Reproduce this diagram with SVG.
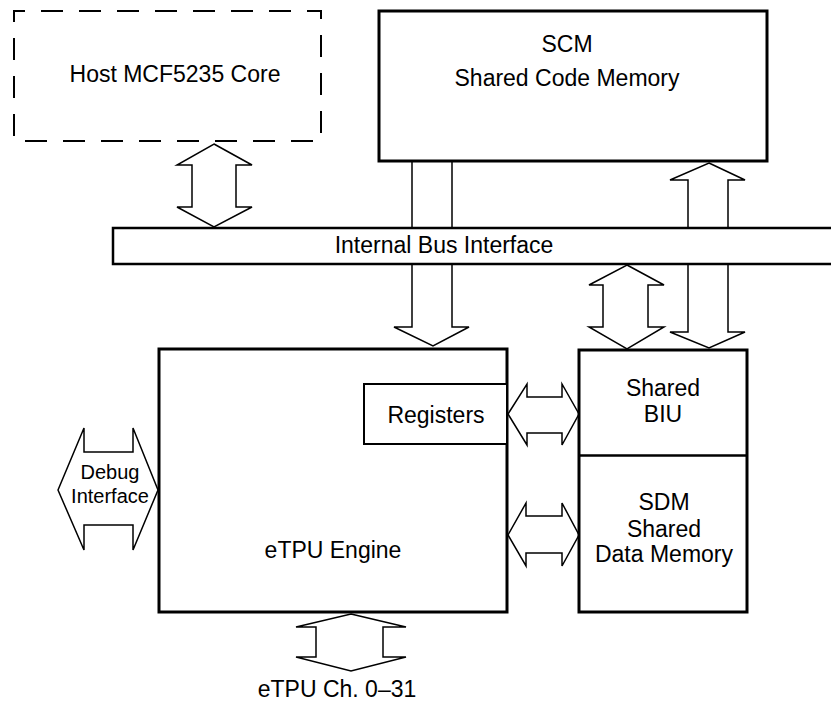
<svg xmlns="http://www.w3.org/2000/svg" width="831" height="704" viewBox="0 0 831 704">
<style>
text{font-family:"Liberation Sans",Arial,sans-serif;font-size:23px;fill:#000;text-anchor:middle}
.box{fill:#fff;stroke:#000;stroke-width:3}
.arr{fill:#fff;stroke:#000;stroke-width:1.5;stroke-linejoin:miter}
.small{font-size:20px}
</style>
<rect width="831" height="704" fill="#fff"/>
<g id="connectors">
<polygon class="arr" points="214,144 252,165 236,165 236,207 252,207 214,227 177,207 192,207 192,165 177,165"/>
<polyline class="arr" points="412,161 412,327 394,327 433,346 469,327 452,327 452,161"/>
<polygon class="arr" points="709,163 745,180 728,180 728,332 745,332 709,348 670,332 688,332 688,180 670,180"/>
<polygon class="arr" points="627,265 664,285 648,285 648,327 664,327 627,349 589,327 603,327 603,285 589,285"/>
<polygon class="arr" points="508,414 527,384 527,397 562,397 562,384 579,414 562,445 562,433 527,433 527,445"/>
<polygon class="arr" points="508,535 526,503 526,516 562,516 562,503 579,535 562,566 562,553 526,553 526,566"/>
<polygon class="arr" points="58,490 84,428 84,452 133,452 133,428 158,490 133,550 133,525 84,525 84,550"/>
<polygon class="arr" points="351,614 406,627 383,627 383,657 406,657 351,671 296,657 316,657 316,627 296,627"/>
</g>
<g id="host">
<rect x="14" y="11" width="307" height="130" fill="none" stroke="#000" stroke-width="2" stroke-dasharray="22 16" stroke-dashoffset="11"/>
<text x="175" y="82">Host MCF5235 Core</text>
</g>
<g id="scm">
<rect class="box" x="379" y="11" width="388" height="150"/>
<text x="567" y="52">SCM</text>
<text x="567" y="86">Shared Code Memory</text>
</g>
<g id="bus">
<rect x="113" y="228" width="718" height="36" fill="#fff"/>
<path d="M831,228 H113 V264 H831" fill="none" stroke="#000" stroke-width="2.5"/>
<text x="444" y="253">Internal Bus Interface</text>
</g>
<g id="etpu">
<rect class="box" x="159" y="349" width="348" height="263"/>
<text x="333" y="558">eTPU Engine</text>
</g>
<g id="registers">
<rect x="364" y="384" width="143" height="60" fill="#fff" stroke="#000" stroke-width="2"/>
<text x="436" y="423">Registers</text>
</g>
<g id="biu">
<rect class="box" x="579" y="350" width="168" height="262"/>
<text x="663" y="396">Shared</text>
<text x="663" y="422">BIU</text>
</g>
<g id="sdm">
<line x1="579" y1="455.5" x2="747" y2="455.5" stroke="#000" stroke-width="2.5"/>
<text x="664" y="510">SDM</text>
<text x="664" y="537">Shared</text>
<text x="664" y="562">Data Memory</text>
</g>
<g id="debug">
<text class="small" x="110" y="479">Debug</text>
<text class="small" x="110" y="503">Interface</text>
</g>
<g id="channels">
<text x="337" y="697">eTPU Ch. 0–31</text>
</g>
</svg>
